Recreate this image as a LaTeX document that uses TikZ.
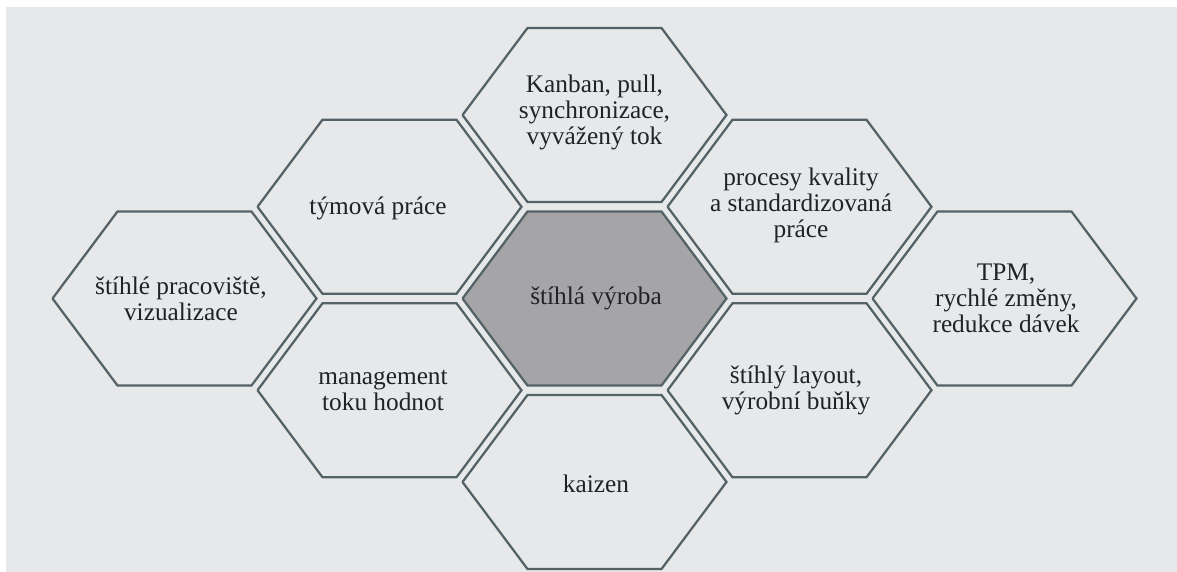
\documentclass[tikz,border=0pt]{standalone}
\usepackage{fontspec}
\setmainfont{Liberation Serif}
\usepackage{tikz}

\definecolor{paper}{RGB}{231,232,234}
\definecolor{hexline}{RGB}{84,98,104}
\definecolor{hexcore}{RGB}{165,165,167}
\definecolor{inktext}{RGB}{32,34,38}

\tikzset{
  hexedge/.style={line width=1.6pt, draw=hexline},
  hexlabel/.style={align=center, text=inktext, font=\fontsize{18}{18.5}\selectfont}
}

\begin{document}
\begin{tikzpicture}[x=0.025cm, y=-0.025cm]
    \useasboundingbox (0,0) rectangle (1177,572);
    \fill[white] (0,0) rectangle (1177,572);
    \fill[paper] (6,7) rectangle (1177,572);

    % centre cell
    \draw[hexedge, fill = hexcore] (594.5-132,298.5) to (594.5-67,298.5-87) to (594.5+67,298.5-87) to (594.5+132,298.5) to (594.5+67,298.5+87) to (594.5-67,298.5+87) to (594.5-132,298.5);

    % ring of cells
    \foreach \x/\y in {594.5/115, 389.5/206.75, 799.5/206.75, 184.5/298.5, 1004.5/298.5, 389.5/390.25, 799.5/390.25, 594.5/482}
    {
    \draw[hexedge] (\x-132,\y) to (\x-67,\y-87) to (\x+67,\y-87) to (\x+132,\y) to (\x+67,\y+87) to (\x-67,\y+87) to (\x-132,\y);
    }

    \node[hexlabel] (vyroba) at (596,298.5) {štíhlá výroba};
    \node[hexlabel] (kanban) at (594.5,112) {Kanban, pull,\\synchronizace,\\vyvážený tok};
    \node[hexlabel] (tym) at (378,208) {týmová práce};
    \node[hexlabel] (procesy) at (801,205) {procesy kvality\\a standardizovaná\\práce};
    \node[hexlabel] (pracoviste) at (181,298.5) {štíhlé pracoviště,\\vizualizace};
    \node[hexlabel] (tpm) at (1006,298.5) {TPM,\\rychlé změny,\\redukce dávek};
    \node[hexlabel] (tok) at (383,390.25) {management\\toku hodnot};
    \node[hexlabel] (layout) at (796,390.25) {štíhlý layout,\\výrobní buňky};
    \node[hexlabel] (kaizen) at (596,484) {kaizen};
\end{tikzpicture}
\end{document}
